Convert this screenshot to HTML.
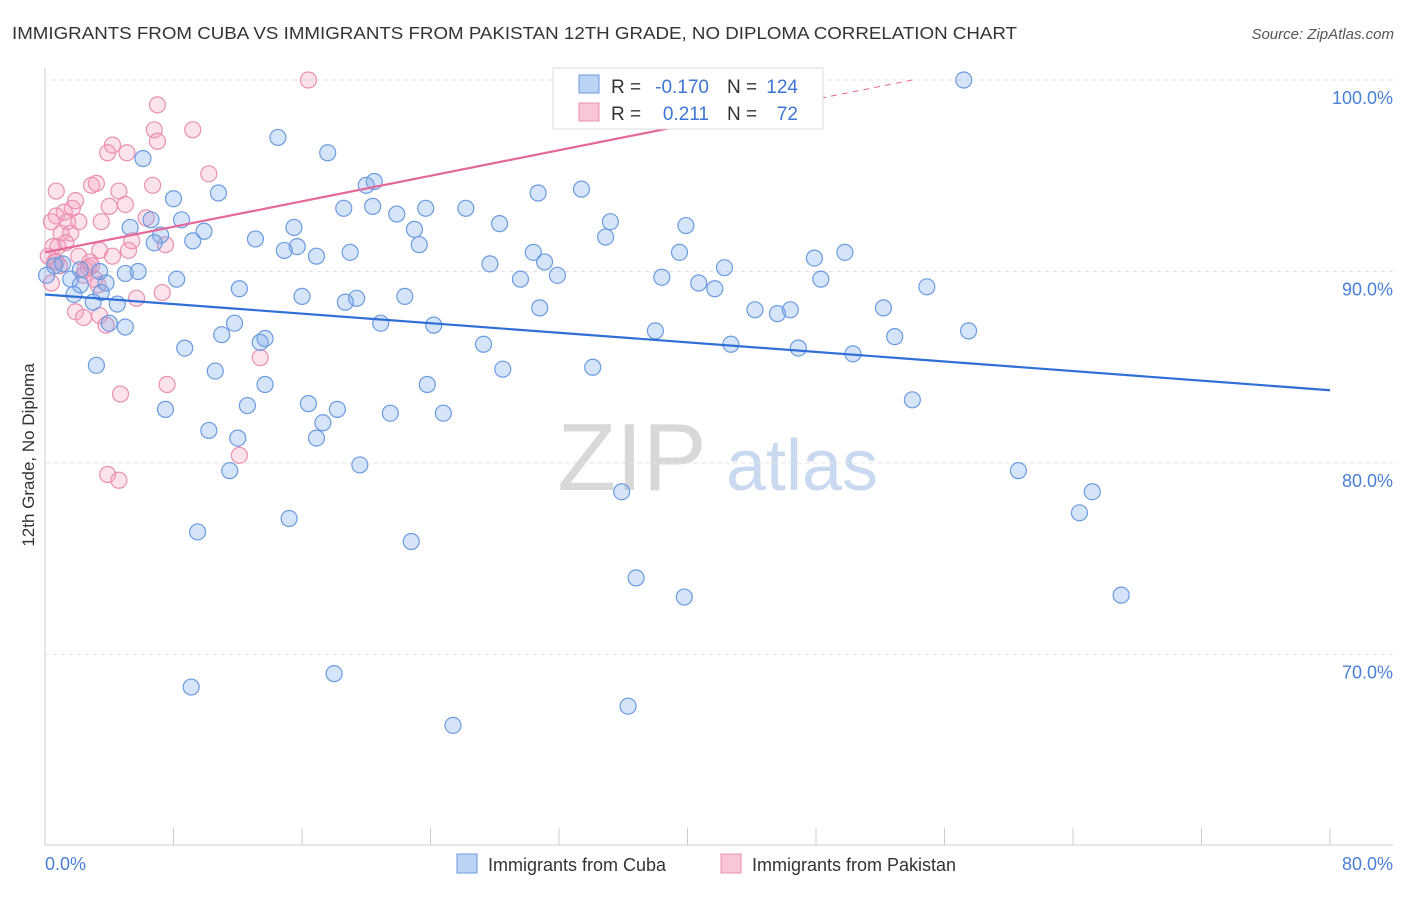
<!DOCTYPE html>
<html><head><meta charset="utf-8"><style>
body{margin:0;background:#fff;font-family:"Liberation Sans",sans-serif;}
svg text{font-family:"Liberation Sans",sans-serif;}
</style></head><body>
<svg id="chart" width="1406" height="892" xmlns="http://www.w3.org/2000/svg">
<text x="12" y="39" font-size="17.5" fill="#333" textLength="1005" lengthAdjust="spacingAndGlyphs">IMMIGRANTS FROM CUBA VS IMMIGRANTS FROM PAKISTAN 12TH GRADE, NO DIPLOMA CORRELATION CHART</text>
<text x="1394" y="39" font-size="15" fill="#555" text-anchor="end" font-style="italic">Source: ZipAtlas.com</text>
<g>
<text x="632" y="490" font-size="96" fill="#d8d8d8" font-family="Liberation Serif" text-anchor="middle">ZIP</text>
<text x="802" y="490" font-size="72" fill="#c9d9f0" text-anchor="middle">atlas</text>
</g>
<g id="grid"></g>
<g id="axes"></g>
<g id="pinkPts"></g>
<g id="bluePts"></g>
<g id="lines"></g>
<text transform="translate(34,455) rotate(-90)" font-size="17" fill="#333" text-anchor="middle">12th Grade, No Diploma</text>
<text x="45" y="870" font-size="18" fill="#4a7fd6">0.0%</text>
<text x="1393" y="870" font-size="18" fill="#4a7fd6" text-anchor="end">80.0%</text>
<g>
<rect x="553" y="68" width="270" height="61" fill="#fff" stroke="#ddd"/>
<rect x="579" y="75" width="20" height="18" fill="#bcd3f5" stroke="#6b9be0"/>
<rect x="579" y="103" width="20" height="18" fill="#f9c6d6" stroke="#e890b0"/>
<text x="611" y="93" font-size="19" fill="#333">R =</text>
<text x="709" y="93" font-size="19" fill="#3f75d4" text-anchor="end">-0.170</text>
<text x="727" y="93" font-size="19" fill="#333">N =</text>
<text x="798" y="93" font-size="19" fill="#3f75d4" text-anchor="end">124</text>
<text x="611" y="120" font-size="19" fill="#333">R =</text>
<text x="709" y="120" font-size="19" fill="#3f75d4" text-anchor="end">0.211</text>
<text x="727" y="120" font-size="19" fill="#333">N =</text>
<text x="798" y="120" font-size="19" fill="#3f75d4" text-anchor="end">72</text>
</g>
<g>
<rect x="457" y="854" width="20" height="19" fill="#bcd3f5" stroke="#6b9be0"/>
<text x="488" y="871" font-size="18" fill="#333">Immigrants from Cuba</text>
<rect x="721" y="854" width="20" height="19" fill="#f9c6d6" stroke="#e890b0"/>
<text x="752" y="871" font-size="18" fill="#333">Immigrants from Pakistan</text>
</g>
</svg>
<script>
const blueX=[57.2,14.5,17.6,6.1,20.5,20.0,10.8,8.0,33.4,30.7,26.2,18.6,20.4,23.7,21.9,8.5,6.6,15.5,28.3,35.2,39.9,23.0,9.9,5.3,7.2,34.9,9.2,13.1,6.8,15.7,23.3,14.9,16.9,19.0,30.4,31.1,49.8,47.9,39.5,27.7,29.6,31.9,38.4,42.3,40.7,41.7,48.3,0.1,0.6,1.1,2.2,3.4,3.8,5.0,5.8,8.2,1.6,2.2,1.8,3.0,4.5,3.5,12.1,16.0,19.4,18.7,22.4,30.8,44.2,45.6,46.4,52.2,54.9,4.0,5.0,11.8,20.9,24.2,11.0,13.7,13.4,38.0,42.7,46.9,50.3,52.9,57.5,27.3,8.7,3.2,28.5,34.1,10.6,13.7,23.8,12.6,7.5,16.4,18.2,21.5,24.8,10.2,12.0,16.9,17.3,19.6,11.5,54.0,60.6,65.2,64.4,35.9,15.2,9.5,22.8,36.8,39.8,67.0,9.1,18.0,36.3,25.4];
const blueY=[100,97.0,96.2,95.9,94.7,94.5,94.1,93.8,94.3,94.1,93.3,93.3,93.4,93.3,93.0,92.7,92.7,92.3,92.5,92.6,92.4,92.2,92.1,92.3,91.9,91.8,91.6,91.7,91.5,91.3,91.4,91.1,90.8,91.0,91.0,90.5,91.0,90.7,91.0,90.4,89.6,89.8,89.7,90.2,89.4,89.1,89.6,89.8,90.3,90.4,90.1,90.0,89.4,89.9,90.0,89.6,89.6,89.3,88.8,88.4,88.3,88.9,89.1,88.7,88.6,88.4,88.7,88.1,88.0,87.8,88.0,88.1,89.2,87.3,87.1,87.3,87.3,87.2,86.7,86.5,86.3,86.9,86.2,86.0,85.7,86.6,86.9,86.2,86.0,85.1,84.9,85.0,84.8,84.1,84.1,83.0,82.8,83.1,82.8,82.6,82.6,81.7,81.3,81.3,82.1,79.9,79.6,83.3,79.6,78.5,77.4,78.5,77.1,76.4,75.9,74.0,73.0,73.1,68.3,69.0,67.3,66.3];
const pinkX=[16.4,7.0,6.8,9.2,4.2,7.0,3.9,5.1,10.2,2.9,6.7,4.6,3.2,0.7,5.0,4.0,1.9,6.3,1.7,1.2,0.7,0.4,1.4,2.1,3.5,1.6,1.0,0.8,1.3,0.5,5.4,7.5,3.4,5.2,0.2,2.1,0.6,2.8,2.7,2.5,2.4,3.1,0.4,3.3,5.7,7.3,1.9,2.4,3.4,3.8,13.4,7.6,4.7,12.1,3.9,4.6,0.7,0.9,2.9,4.2];
const pinkY=[100.0,98.7,97.4,97.4,96.6,96.8,96.2,96.2,95.1,94.5,94.5,94.2,94.6,94.2,93.5,93.4,93.7,92.8,93.3,93.1,92.9,92.6,92.6,92.6,92.6,92.0,92.0,91.3,91.5,91.3,91.6,91.4,91.1,91.1,90.8,90.8,90.5,90.5,90.2,90.1,89.8,89.6,89.4,89.3,88.6,88.9,87.9,87.6,87.7,87.2,85.5,84.1,83.6,80.4,79.4,79.1,90.5,90.3,90.3,90.8];
const yTicks=[100,90,80,70];
const xTicks=[0,8,16,24,32,40,48,56,64,72,80];
const blueTrend=[88.8,83.8];
const pinkTrend=[91.0,97.7,40.2];
const NS="http://www.w3.org/2000/svg";
const sx=v=>45+v/80*1285;
const sy=v=>80+(100-v)*19.15;
function mk(tag,attrs,parent){const e=document.createElementNS(NS,tag);for(const k in attrs)e.setAttribute(k,attrs[k]);parent.appendChild(e);return e;}
const grid=document.getElementById('grid'),axes=document.getElementById('axes');
yTicks.forEach(t=>{
  const l=mk('line',{x1:45,x2:1393,y1:sy(t),y2:sy(t),stroke:'#e3e3e3','stroke-dasharray':'4,4'},grid);
  
  
  const tx=mk('text',{x:1393,y:sy(t)+24,'font-size':18,fill:'#4a7fd6','text-anchor':'end'},grid);
  tx.textContent=t.toFixed(1)+'%';
  
  
});
let a=mk('line',{x1:45,x2:45,y1:68,y2:845,stroke:'#ccc'},axes);


a=mk('line',{x1:45,x2:1393,y1:845,y2:845,stroke:'#ccc'},axes);


xTicks.forEach(t=>{
  const l=mk('line',{x1:sx(t),x2:sx(t),y1:828,y2:845,stroke:'#ccc'},axes);
  
  
});
const pg=document.getElementById('pinkPts');
pinkX.forEach((x,i)=>{
  const c=mk('circle',{cx:sx(x),cy:sy(pinkY[i]),r:8,fill:'rgba(244,160,190,0.3)',stroke:'#ea8fb0','stroke-width':1.2},pg);
  
  
});
const bg=document.getElementById('bluePts');
blueX.forEach((x,i)=>{
  const c=mk('circle',{cx:sx(x),cy:sy(blueY[i]),r:8,fill:'rgba(120,165,235,0.3)',stroke:'#6b9be0','stroke-width':1.2},bg);
  
  
});
const lg=document.getElementById('lines');
let ln=mk('line',{x1:sx(0),y1:sy(blueTrend[0]),x2:sx(80),y2:sy(blueTrend[1]),stroke:'#2f6fd6','stroke-width':2.2},lg);


const slope=(pinkTrend[1]-pinkTrend[0])/pinkTrend[2];
ln=mk('line',{x1:sx(0),y1:sy(pinkTrend[0]),x2:sx(pinkTrend[2]),y2:sy(pinkTrend[1]),stroke:'#e4689a','stroke-width':2.2},lg);


const xEnd=(100-pinkTrend[0])/slope;
ln=mk('line',{x1:sx(pinkTrend[2]),y1:sy(pinkTrend[1]),x2:sx(xEnd),y2:sy(100),stroke:'#e4689a','stroke-width':1,'stroke-dasharray':'6,5'},lg);


</script>
</body></html>
